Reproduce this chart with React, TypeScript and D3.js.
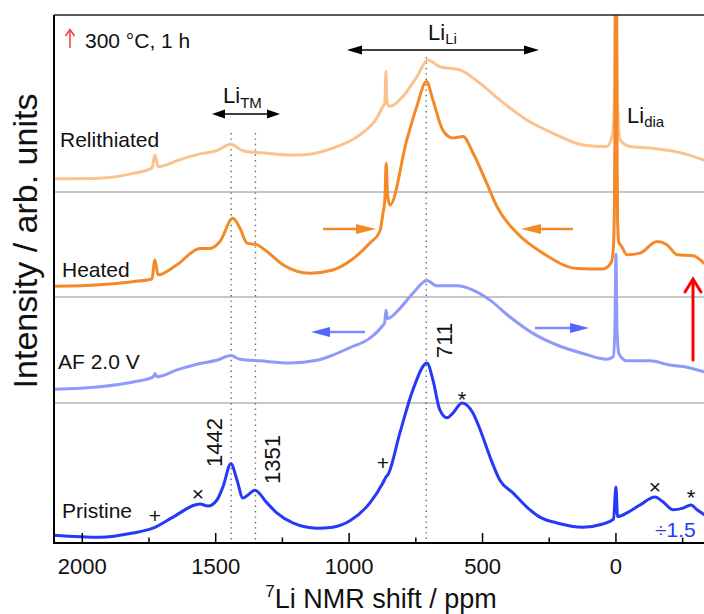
import React from "react";
import * as d3 from "d3";

const W = 704;
const H = 614;
const PLOT = { left: 54, top: 15, right: 704, bottom: 543 };

const xDomain: [number, number] = [2106, -330];
const yDomain: [number, number] = [0, 100];

const majorTicks = [2000, 1500, 1000, 500, 0];
const minorTicks = [1750, 1250, 750, 250, -250];

const seriesNames = ["Pristine", "AF 2.0 V", "Heated", "Relithiated"];
const seriesOffsets = [0, 26.5, 46.6, 66.5];
const seriesColors = ["#2639f6", "#8e9af9", "#f38a27", "#fbc28f"];
const separatorLevels = [26.5, 46.6, 66.5];
const markedShifts = [1442, 1351, 711];

// [ppm, intensity] (relative to each trace's offset)
const pristine: [number, number][] = [
  [2110, 1.5], [1934, 1.1], [1810, 1.9], [1735, 2.8], [1660, 4.9], [1578, 7.2], [1559, 7.4],
  [1529, 7.0], [1496, 8.1], [1473, 10.6], [1443, 15.0], [1420, 11.9], [1398, 8.5], [1379, 9.1],
  [1353, 10.0], [1308, 7.6], [1271, 5.7], [1211, 3.8], [1121, 2.8], [1061, 3.0], [997, 4.2],
  [922, 7.6], [873, 11.4], [862, 12.5], [855, 12.9], [810, 20.8], [761, 29.0],
  [708, 34.1], [686, 30.9], [660, 25.2], [633, 23.7], [611, 24.6], [577, 26.5], [536, 24.6],
  [510, 21.6], [472, 16.3], [435, 11.9], [386, 9.5], [334, 6.8], [285, 4.9], [221, 3.8],
  [124, 3.0], [49, 3.6], [9, 4.5], [0, 10.6], [-6, 5.0], [-41, 5.7], [-90, 7.2], [-146, 8.7],
  [-176, 7.8], [-214, 6.3], [-251, 6.6], [-281, 7.2], [-304, 6.3], [-330, 5.4],
];

const af: [number, number][] = [
  [2110, 2.6], [1934, 3.1], [1810, 4.0], [1735, 4.9], [1728, 5.6], [1720, 5.0], [1645, 6.3],
  [1559, 7.5], [1496, 8.1], [1443, 9.0], [1409, 8.3], [1334, 8.0], [1222, 7.6], [1121, 8.1],
  [1061, 9.1], [997, 10.5], [922, 12.3], [877, 14.5], [867, 15.2], [862, 17.6], [856, 16.0],
  [810, 17.9], [761, 20.8], [708, 23.2], [671, 22.2], [596, 22.2], [536, 21.4], [472, 19.5],
  [397, 16.3], [311, 13.2], [221, 11.0], [124, 9.4], [34, 8.3], [10, 8.8], [4, 14],
  [0, 28.2], [-4, 14], [-11, 9.4], [-41, 8.0], [-127, 8.0], [-202, 7.2], [-266, 6.8], [-330, 5.9],
];

const heated: [number, number][] = [
  [2110, 2.0], [1934, 2.3], [1810, 2.9], [1739, 3.4], [1728, 7.0], [1716, 4.2], [1645, 6.1],
  [1559, 9.2], [1522, 9.2], [1484, 10.5], [1436, 14.9], [1409, 13.0], [1383, 10.2], [1346, 9.9],
  [1308, 8.6], [1248, 6.1], [1147, 4.5], [1061, 5.1], [997, 6.8], [922, 10.2], [885, 12.4],
  [873, 15.9], [866, 18.4], [861, 25.3], [856, 19.3], [847, 17.4], [784, 29.7], [747, 36.0],
  [710, 40.8], [686, 37.3], [649, 31.6], [611, 30.1], [573, 30.4], [536, 27.3], [484, 21.5],
  [446, 17.1], [371, 12.1], [274, 8.3], [146, 5.4], [49, 5.3], [19, 6.4], [10, 9], [6, 16],
  [4, 30], [2, 60], [0, 75], [-2, 60], [-4, 30], [-6, 15], [-10, 10.5], [-22, 9.5], [-41, 8.0],
  [-90, 8.3], [-154, 10.5], [-191, 9.9], [-229, 8.0], [-289, 7.8], [-330, 6.4],
];

const relithiated: [number, number][] = [
  [2110, 2.5], [1934, 2.6], [1810, 3.5], [1739, 4.5], [1728, 7.0], [1716, 4.8], [1634, 6.1],
  [1559, 7.2], [1496, 7.8], [1443, 9.0], [1398, 7.8], [1308, 7.3], [1222, 7.0], [1184, 7.0],
  [1061, 8.3], [960, 10.8], [896, 14.0], [873, 16.2], [866, 16.8], [862, 22.8], [858, 16.8],
  [847, 16.2], [798, 18.1], [746, 21.8], [705, 25.0], [660, 23.7], [585, 23.1], [510, 20.6],
  [435, 17.4], [334, 13.6], [236, 11.1], [124, 8.9], [34, 8.6], [15, 10.4], [8, 14], [4, 25],
  [0, 60], [-4, 25], [-8, 14], [-15, 9.9], [-52, 8.6], [-127, 8.3], [-251, 7.3], [-330, 6.0],
];

const FONT = "'Liberation Sans', Arial, Helvetica, sans-serif";

function head(tx: number, ty: number, dir: "left" | "right", len: number, half: number) {
  const s = dir === "right" ? -1 : 1;
  return `${tx},${ty} ${tx + s * len},${ty - half} ${tx + s * len},${ty + half}`;
}

export default function App() {
  const x = d3.scaleLinear().domain(xDomain).range([PLOT.left, PLOT.right]);
  const y = d3.scaleLinear().domain(yDomain).range([PLOT.bottom, PLOT.top]);
  const spectra = [pristine, af, heated, relithiated];

  const makeLine = (off: number) =>
    d3
      .line<[number, number]>()
      .x((d) => x(d[0]))
      .y((d) => y(d[1] + off))
      .curve(d3.curveMonotoneX);

  const drawOrder = [3, 2, 1, 0];
  const labelPos = [
    { x: 62, y: 518 },
    { x: 58, y: 369 },
    { x: 62, y: 277 },
    { x: 60, y: 147 },
  ];

  return (
    <svg
      width={W}
      height={H}
      style={{ position: "absolute", left: 0, top: 0, background: "#fff" }}
      fontFamily={FONT}
    >
      <defs>
        <clipPath id="plotclip">
          <rect x={PLOT.left} y={PLOT.top} width={PLOT.right - PLOT.left} height={PLOT.bottom - PLOT.top} />
        </clipPath>
      </defs>
      <rect x={0} y={0} width={W} height={H} fill="#fff" />

      {/* separators */}
      {separatorLevels.map((v, i) => (
        <line key={"sep" + i} x1={PLOT.left} x2={PLOT.right} y1={y(v)} y2={y(v)} stroke="#b4b4b4" strokeWidth={1.5} />
      ))}

      {/* dotted guide lines */}
      {markedShifts.map((p, i) => (
        <line
          key={"dot" + i}
          x1={x(p)}
          x2={x(p)}
          y1={p === 711 ? 57 : 133}
          y2={PLOT.bottom}
          stroke="#666"
          strokeWidth={1.4}
          strokeDasharray="1.4,4"
        />
      ))}

      {/* spectra */}
      <g clipPath="url(#plotclip)">
        {drawOrder.map((i) => (
          <path
            key={"sp" + i}
            d={makeLine(seriesOffsets[i])(spectra[i]) || ""}
            fill="none"
            stroke={seriesColors[i]}
            strokeWidth={3}
            strokeLinejoin="round"
            strokeLinecap="round"
          />
        ))}
      </g>

      {/* frame */}
      <line x1={PLOT.left} x2={PLOT.right} y1={PLOT.top} y2={PLOT.top} stroke="#222" strokeWidth={1.5} />
      <line x1={PLOT.left} x2={PLOT.left} y1={PLOT.top} y2={PLOT.bottom + 1} stroke="#000" strokeWidth={2} />
      <line x1={PLOT.left - 1} x2={PLOT.right} y1={PLOT.bottom} y2={PLOT.bottom} stroke="#000" strokeWidth={2} />

      {/* ticks */}
      {majorTicks.map((t) => (
        <g key={"mt" + t}>
          <line x1={x(t)} x2={x(t)} y1={PLOT.bottom} y2={PLOT.bottom - 10} stroke="#000" strokeWidth={1.5} />
          <text x={x(t)} y={574} fontSize={22} textAnchor="middle" fill="#111">
            {t}
          </text>
        </g>
      ))}
      {minorTicks.map((t) => (
        <line key={"nt" + t} x1={x(t)} x2={x(t)} y1={PLOT.bottom} y2={PLOT.bottom - 5.5} stroke="#000" strokeWidth={1.5} />
      ))}

      {/* axis titles */}
      <text x={381} y={608} fontSize={27} textAnchor="middle" fill="#111">
        <tspan fontSize={17} dy={-11}>7</tspan>
        <tspan dy={11}>Li NMR shift / ppm</tspan>
      </text>
      <text transform="translate(37,241) rotate(-90)" fontSize={34} textAnchor="middle" fill="#111">
        Intensity / arb. units
      </text>

      {/* series labels */}
      {seriesNames.map((n, i) => (
        <text key={"lab" + i} x={labelPos[i].x} y={labelPos[i].y} fontSize={21} fill="#111">
          {n}
        </text>
      ))}

      {/* temperature note */}
      <g stroke="#f03c3c" strokeWidth={1.5} fill="none">
        <line x1={70} y1={48} x2={70} y2={30} />
        <polyline points="65.5,36 70,29.5 74.5,36" />
      </g>
      <text x={85} y={48} fontSize={21} fill="#111">300 °C, 1 h</text>

      {/* Li_TM */}
      <line x1={218} x2={274} y1={114} y2={114} stroke="#000" strokeWidth={1.5} />
      <polygon points={head(212, 114, "left", 13, 4.5)} fill="#000" />
      <polygon points={head(280, 114, "right", 13, 4.5)} fill="#000" />
      <text x={223} y={103} fontSize={22} fill="#111">
        Li<tspan fontSize={15} dy={5}>TM</tspan>
      </text>

      {/* Li_Li */}
      <line x1={353} x2={532} y1={50} y2={50} stroke="#000" strokeWidth={1.5} />
      <polygon points={head(347, 50, "left", 15, 4.5)} fill="#000" />
      <polygon points={head(539, 50, "right", 15, 4.5)} fill="#000" />
      <text x={428} y={40} fontSize={22} fill="#111">
        Li<tspan fontSize={15} dy={4}>Li</tspan>
      </text>

      {/* Li_dia */}
      <text x={627} y={123} fontSize={22} fill="#111">
        Li<tspan fontSize={15} dy={4}>dia</tspan>
      </text>

      {/* orange arrows */}
      <line x1={323} x2={360} y1={229} y2={229} stroke="#f38a27" strokeWidth={2.5} />
      <polygon points={head(376, 229, "right", 20, 5)} fill="#f38a27" />
      <line x1={535} x2={573} y1={229} y2={229} stroke="#f38a27" strokeWidth={2.5} />
      <polygon points={head(521, 229, "left", 20, 5)} fill="#f38a27" />

      {/* blue arrows */}
      <line x1={326} x2={365} y1={332} y2={332} stroke="#7d8cff" strokeWidth={2.5} />
      <polygon points={head(311, 332, "left", 19, 5)} fill="#5566ff" />
      <line x1={535} x2={574} y1={328} y2={328} stroke="#7d8cff" strokeWidth={2.5} />
      <polygon points={head(589, 328, "right", 19, 5)} fill="#5566ff" />

      {/* red arrow */}
      <g stroke="#ff0000" strokeWidth={3} fill="none" strokeLinecap="round">
        <line x1={693} y1={360} x2={693} y2={280} />
        <polyline points="685,292 693,279 701,292" />
      </g>

      {/* peak labels */}
      <text transform="translate(222,467) rotate(-90)" fontSize={22} fill="#111">1442</text>
      <text transform="translate(280,484) rotate(-90)" fontSize={22} fill="#111">1351</text>
      <text transform="translate(452,358) rotate(-90)" fontSize={22} fill="#111">711</text>

      {/* markers */}
      <text x={462} y={407} fontSize={22} textAnchor="middle" fill="#111">*</text>
      <text x={691} y={505} fontSize={22} textAnchor="middle" fill="#111">*</text>
      <text x={155} y={523} fontSize={21} textAnchor="middle" fill="#111">+</text>
      <text x={383} y={470} fontSize={21} textAnchor="middle" fill="#111">+</text>
      <text x={198} y={501} fontSize={21} textAnchor="middle" fill="#111">×</text>
      <text x={655} y={494} fontSize={21} textAnchor="middle" fill="#111">×</text>

      <text x={655} y={537} fontSize={21} fill="#2639f6">÷1.5</text>
    </svg>
  );
}
